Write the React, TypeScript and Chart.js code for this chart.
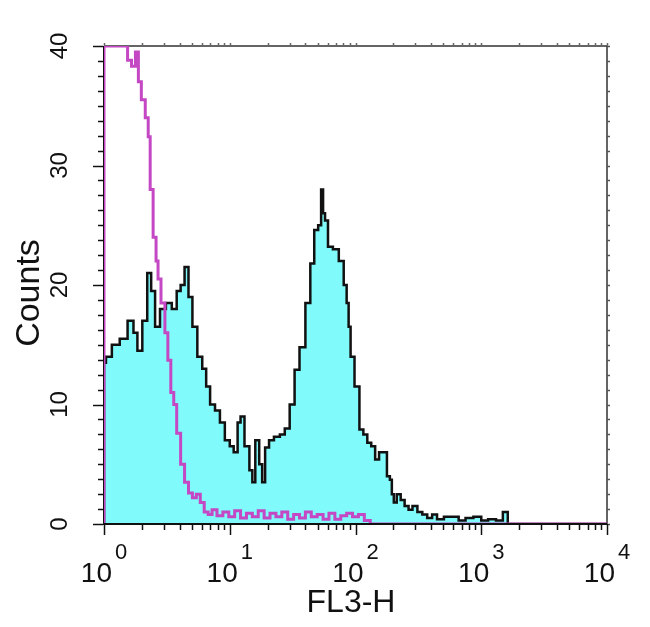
import React, { useEffect, useRef } from "react";
import { Chart, registerables } from "chart.js";

Chart.register(...registerables);

// Log-channel positions (64 channels per decade, 0..256 spans 10^0..10^4) and counts
const cyanChannels = [0, 0, 2, 6, 10, 14, 16, 18, 21, 23, 25, 27, 30, 33, 36, 38, 40, 42, 44, 46, 49, 51, 53, 55, 58, 60, 63, 65, 67, 69, 70, 73, 75, 76, 78, 80, 81, 83, 85, 88, 91, 93, 96, 98, 101, 104, 106, 108, 110, 111, 112, 113, 115, 118, 121, 123, 124, 125, 126, 129, 131, 133, 135, 137, 139, 141, 143, 145, 146, 147, 148, 150, 152, 154, 156, 158, 161, 163, 166, 168, 171, 175, 179, 182, 186, 190, 194, 197, 202, 204, 207, 256];
const cyanCounts = [0, 13.5, 14, 15, 15.5, 17, 16, 14.5, 17, 21, 19.5, 16.5, 18, 18.5, 18, 19.5, 20, 21.5, 19, 16.5, 14, 13, 11.5, 10, 9.5, 8.5, 7, 6.5, 6, 8.5, 9, 6.5, 4.5, 3.5, 7, 5, 3.5, 6.4, 7, 7.3, 7.5, 8, 10, 12.9, 14.8, 18.5, 21.8, 24.6, 25, 28, 26, 25.4, 23.2, 23, 22, 20, 18.5, 16.5, 14, 11.5, 7.9, 7.5, 6.8, 6.5, 5.4, 6, 6, 4, 3.7, 2.5, 1.8, 2.5, 2, 1.5, 1.2, 1.5, 1, 0.8, 0.5, 0.8, 0.4, 0.6, 0.6, 0.3, 0.5, 0.6, 0.3, 0.4, 0.3, 1, 0, 0];

const magentaChannels = [0, 0, 2, 5, 8, 11, 13, 15, 17, 18, 20, 22, 23, 24, 26, 27, 28, 30, 32, 33, 35, 36, 38, 40, 42, 44, 46, 48, 50, 52, 54, 56, 59, 62, 65, 68, 71, 74, 77, 80, 83, 86, 89, 92, 95, 98, 101, 104, 107, 110, 113, 116, 119, 122, 125, 128, 131, 134, 137, 256];
const magentaCounts = [0, 40, 40, 40, 40, 40, 38.8, 38.3, 39.5, 37, 35.5, 34, 32.4, 28, 24, 22, 20.5, 18.5, 16, 13.7, 11, 10, 7.6, 5, 3.5, 2.6, 2.2, 2.5, 1.8, 1, 0.8, 1.2, 0.7, 1, 0.6, 1.1, 0.5, 0.9, 0.6, 1.1, 0.5, 0.9, 0.6, 1, 0.4, 0.8, 0.5, 1, 0.6, 0.8, 0.4, 0.9, 0.4, 0.7, 0.9, 0.6, 0.8, 0.3, 0, 0];

const channelsPerDecade = 64;
const xDecadeExponents = [0, 1, 2, 3, 4];
const xMinorMultipliers = [2, 3, 4, 5, 6, 7, 8, 9];
const yTickStep = 1.25;
const yLabelValues = [0, 10, 20, 30, 40];
const xTitle = "FL3-H";
const yTitle = "Counts";

const toPoints = (chs: number[], counts: number[]) =>
  chs.map((c, i) => ({ x: Math.pow(10, c / channelsPerDecade), y: counts[i] }));

const framePlugin = {
  id: "framePlugin",
  beforeDatasetsDraw(chart: any) {
    const { ctx, chartArea } = chart;
    const { left, right, top, bottom } = chartArea;
    ctx.save();
    ctx.strokeStyle = "#333";
    ctx.lineWidth = 1.5;
    ctx.beginPath();
    ctx.moveTo(left, top);
    ctx.lineTo(right, top);
    ctx.lineTo(right, bottom);
    ctx.stroke();
    ctx.strokeStyle = "#111";
    ctx.lineWidth = 2;
    ctx.beginPath();
    ctx.moveTo(left, top);
    ctx.lineTo(left, bottom);
    ctx.lineTo(right, bottom);
    ctx.stroke();
    ctx.restore();
  },
  afterDraw(chart: any) {
    const { ctx, chartArea } = chart;
    const xs = chart.scales.x;
    const ys = chart.scales.y;
    const { left, right, top, bottom } = chartArea;
    ctx.save();
    // bottom axis line over the fill
    ctx.strokeStyle = "#111";
    ctx.lineWidth = 2;
    ctx.beginPath();
    ctx.moveTo(left, bottom);
    ctx.lineTo(right, bottom);
    ctx.stroke();

    // y ticks
    ctx.lineWidth = 1.5;
    for (let v = 0; v <= 40 + 1e-9; v += yTickStep) {
      const y = Math.round(ys.getPixelForValue(v)) + 0.5;
      const major = Math.abs(v % 10) < 1e-9;
      const len = major ? 11 : 6;
      ctx.strokeStyle = "#111";
      ctx.beginPath();
      ctx.moveTo(left - len, y);
      ctx.lineTo(left - 1, y);
      ctx.stroke();
      ctx.strokeStyle = "#555";
      ctx.beginPath();
      ctx.moveTo(right, y);
      ctx.lineTo(right + 3, y);
      ctx.stroke();
    }
    // x ticks
    const xTickVals: { v: number; major: boolean }[] = [];
    xDecadeExponents.forEach((e) => {
      xTickVals.push({ v: Math.pow(10, e), major: true });
      if (e < 4) xMinorMultipliers.forEach((m) => xTickVals.push({ v: m * Math.pow(10, e), major: false }));
    });
    xTickVals.forEach(({ v, major }) => {
      const x = Math.round(xs.getPixelForValue(v)) + 0.5;
      const len = major ? 11 : 6;
      ctx.strokeStyle = "#111";
      ctx.beginPath();
      ctx.moveTo(x, bottom);
      ctx.lineTo(x, bottom + len);
      ctx.stroke();
      ctx.strokeStyle = "#666";
      ctx.beginPath();
      ctx.moveTo(x, top);
      ctx.lineTo(x, top - 3);
      ctx.stroke();
    });

    ctx.fillStyle = "#111";
    // x labels with superscripts
    const bigFont = "28px 'Liberation Sans', Arial, sans-serif";
    const supFont = "22px 'Liberation Sans', Arial, sans-serif";
    ctx.textBaseline = "alphabetic";
    ctx.textAlign = "left";
    xDecadeExponents.forEach((e) => {
      const px = xs.getPixelForValue(Math.pow(10, e));
      ctx.font = bigFont;
      const w1 = ctx.measureText("10").width;
      ctx.font = supFont;
      const sup = String(e);
      const w2 = ctx.measureText(sup).width;
      const gap = 3;
      const start = px - (w1 + w2 + gap) / 2;
      ctx.font = bigFont;
      ctx.fillText("10", start, 582);
      ctx.font = supFont;
      ctx.fillText(sup, start + w1 + gap, 559);
    });

    // y labels rotated
    ctx.font = "24px 'Liberation Sans', Arial, sans-serif";
    ctx.textAlign = "center";
    yLabelValues.forEach((v) => {
      const y = ys.getPixelForValue(v);
      ctx.save();
      ctx.translate(67, y);
      ctx.rotate(-Math.PI / 2);
      ctx.fillText(String(v), 0, 0);
      ctx.restore();
    });

    // titles
    ctx.font = "34px 'Liberation Sans', Arial, sans-serif";
    ctx.save();
    ctx.translate(39, 293);
    ctx.rotate(-Math.PI / 2);
    ctx.fillText(yTitle, 0, 0);
    ctx.restore();
    ctx.font = "32px 'Liberation Sans', Arial, sans-serif";
    ctx.fillText(xTitle, 351, 612);
    ctx.restore();
  },
};

export default function App() {
  const ref = useRef<HTMLCanvasElement | null>(null);
  useEffect(() => {
    if (!ref.current) return;
    const chart = new Chart(ref.current, {
      type: "line",
      data: {
        datasets: [
          {
            label: "Isotype",
            data: toPoints(magentaChannels, magentaCounts),
            stepped: "middle",
            borderColor: "rgb(196,72,196)",
            borderWidth: 3,
            pointRadius: 0,
            fill: false,
            order: 0,
          },
          {
            label: "Stained",
            data: toPoints(cyanChannels, cyanCounts),
            stepped: "middle",
            borderColor: "#111",
            borderWidth: 2.5,
            backgroundColor: "rgb(128,250,250)",
            pointRadius: 0,
            fill: "origin",
            order: 1,
          },
        ],
      },
      options: {
        responsive: false,
        animation: false,
        devicePixelRatio: 1,
        layout: { padding: { left: 104, right: 43, top: 46, bottom: 103 } },
        plugins: { legend: { display: false }, tooltip: { enabled: false } },
        scales: {
          x: { type: "logarithmic", min: 1, max: 10000, display: false },
          y: { type: "linear", min: 0, max: 40, display: false },
        },
      },
      plugins: [framePlugin],
    });
    return () => chart.destroy();
  }, []);
  return (
    <div style={{ position: "fixed", left: 0, top: 0, width: 650, height: 627, background: "#fff" }}>
      <canvas ref={ref} width={650} height={627} style={{ width: 650, height: 627, display: "block" }} />
    </div>
  );
}
